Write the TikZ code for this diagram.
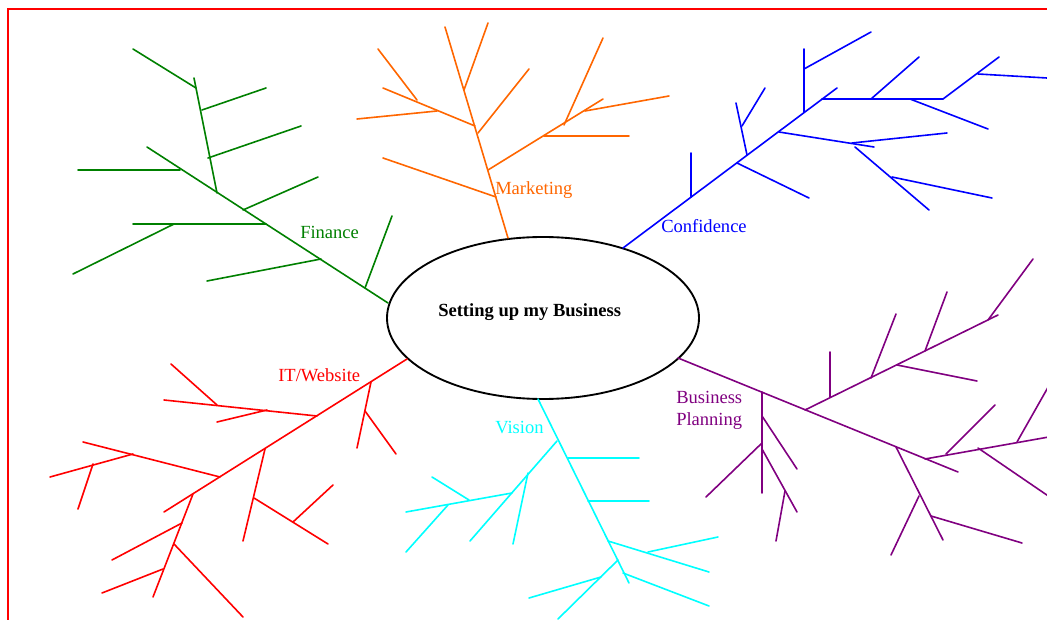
\documentclass[tikz,border=0pt]{standalone}
\usepackage{fontspec}
\setmainfont{Liberation Serif}
\usetikzlibrary{shapes.geometric}
\definecolor{fgreen}{RGB}{0,128,0}
\definecolor{forange}{RGB}{255,102,0}
\definecolor{fblue}{RGB}{0,0,255}
\definecolor{fred}{RGB}{255,0,0}
\definecolor{fcyan}{RGB}{0,255,255}
\definecolor{fpurple}{RGB}{128,0,128}
\begin{document}
\begin{tikzpicture}[x=0.75pt,y=-0.75pt,
  br/.style={line width=1.2pt, line cap=round},
  fin/.style={br, draw=fgreen},
  mkt/.style={br, draw=forange},
  cnf/.style={br, draw=fblue},
  itw/.style={br, draw=fred},
  vis/.style={br, draw=fcyan},
  bus/.style={br, draw=fpurple},
  lbl/.style={font=\fontsize{13.9}{16.5}\selectfont, inner sep=0pt, anchor=base west}]
\useasboundingbox (0,0) rectangle (1047,620);
\clip (0,0) rectangle (1047,620);
\draw[fred, line width=1.3pt] (8,9) rectangle (1100,700);

% central node
\node[ellipse, draw=black, line width=1.4pt, minimum width=234pt, minimum height=121.5pt, inner sep=0pt] (hub) at (543,318) {};
\node[lbl, font={\fontsize{13.9}{16.5}\selectfont\bfseries}] (title) at (438,317) {Setting up my Business};

% ---------- Finance ----------
\coordinate (f0) at (388,303);
\coordinate (f1) at (147,147);
\draw[fin] (f0) -- (f1);
\draw[fin] (365,288) -- (392,216);
\draw[fin] (321,259) -- (207,281);
\draw[fin] (266,224) -- (133,224);
\draw[fin] (174,224) -- (73,274);
\draw[fin] (243,210) -- (318,177);
\draw[fin] (217,193) -- (194,78);
\draw[fin] (196,88) -- (133,49);
\draw[fin] (202,110) -- (266,88);
\draw[fin] (208,158) -- (301,126);
\draw[fin] (180,170) -- (78,170);
\node[lbl, text=fgreen] (lfin) at (300,239) {Finance};

% ---------- Marketing ----------
\coordinate (m0) at (508,238);
\coordinate (m1) at (445,27);
\draw[mkt] (m0) -- (m1);
\draw[mkt] (464,90) -- (488,23);
\draw[mkt] (475,126) -- (383,88);
\draw[mkt] (437,111) -- (357,119);
\draw[mkt] (417,100) -- (378,49);
\draw[mkt] (478,133) -- (529,69);
\draw[mkt] (488,170) -- (603,99);
\draw[mkt] (544,136) -- (629,136);
\draw[mkt] (564,125) -- (603,38);
\draw[mkt] (585,111) -- (669,96);
\draw[mkt] (496,197) -- (383,158);
\node[lbl, text=forange] (lmkt) at (495,195) {Marketing};

% ---------- Confidence ----------
\coordinate (c0) at (623,248);
\coordinate (c1) at (837,88);
\draw[cnf] (c0) -- (c1);
\draw[cnf] (691,197) -- (691,153);
\draw[cnf] (737,163) -- (809,198);
\draw[cnf] (747,155) -- (736,103);
\draw[cnf] (742,126) -- (765,88);
\draw[cnf] (779,132) -- (874,147);
\draw[cnf] (852,143) -- (947,133);
\draw[cnf] (855,147) -- (929,210);
\draw[cnf] (892,177) -- (992,198);
\draw[cnf] (804,112) -- (804,49);
\draw[cnf] (804,69) -- (871,32);
\draw[cnf] (822,99) -- (943,99);
\draw[cnf] (871,99) -- (919,57);
\draw[cnf] (910,99) -- (988,129);
\draw[cnf] (943,99) -- (999,57);
\draw[cnf] (978,74) -- (1047,78);
\node[lbl, text=fblue] (lcnf) at (661,233) {Confidence};

% ---------- IT/Website ----------
\coordinate (i0) at (407,359);
\coordinate (i1) at (164,512);
\draw[itw] (i0) -- (i1);
\draw[itw] (371,382) -- (357,448);
\draw[itw] (365,411) -- (396,454);
\draw[itw] (317,416) -- (164,400);
\draw[itw] (217,405) -- (171,364);
\draw[itw] (267,410) -- (217,422);
\draw[itw] (265,449) -- (243,541);
\draw[itw] (254,498) -- (328,544);
\draw[itw] (293,522) -- (333,485);
\draw[itw] (220,477) -- (83,442);
\draw[itw] (133,454) -- (50,477);
\draw[itw] (93,464) -- (78,509);
\draw[itw] (193,494) -- (153,597);
\draw[itw] (182,523) -- (112,560);
\draw[itw] (163,569) -- (102,593);
\draw[itw] (174,544) -- (243,617);
\node[lbl, text=fred] (litw) at (278,382) {IT/Website};

% ---------- Vision ----------
\coordinate (v0) at (538,399);
\coordinate (v1) at (629,583);
\draw[vis] (v0) -- (v1);
\draw[vis] (568,458) -- (639,458);
\draw[vis] (588,501) -- (649,501);
\draw[vis] (557,441) -- (470,541);
\draw[vis] (528,473) -- (513,544);
\draw[vis] (512,493) -- (406,512);
\draw[vis] (469,500) -- (432,477);
\draw[vis] (448,505) -- (406,552);
\draw[vis] (608,541) -- (709,572);
\draw[vis] (648,552) -- (718,537);
\draw[vis] (618,560) -- (558,619);
\draw[vis] (601,577) -- (529,598);
\draw[vis] (623,573) -- (709,606);
\node[lbl, text=fcyan] (lvis) at (495,434) {Vision};

% ---------- Business Planning ----------
\coordinate (b0) at (678,358);
\coordinate (b1) at (958,472);
\draw[bus] (b0) -- (b1);
\draw[bus] (762,392) -- (762,493);
\draw[bus] (762,416) -- (797,469);
\draw[bus] (762,443) -- (706,497);
\draw[bus] (762,449) -- (797,512);
\draw[bus] (785,491) -- (776,541);
\draw[bus] (805,410) -- (998,315);
\draw[bus] (830,397) -- (830,352);
\draw[bus] (871,378) -- (896,314);
\draw[bus] (897,365) -- (977,381);
\draw[bus] (925,351) -- (947,292);
\draw[bus] (988,320) -- (1033,259);
\draw[bus] (896,447) -- (943,540);
\draw[bus] (919,496) -- (891,555);
\draw[bus] (931,516) -- (1022,543);
\draw[bus] (925,459) -- (1060,435);
\draw[bus] (946,454) -- (995,405);
\draw[bus] (978,448) -- (1060,504);
\draw[bus] (1017,442) -- (1055,375);
\node[lbl, text=fpurple] (lbus1) at (676,404) {Business};
\node[lbl, text=fpurple] (lbus2) at (676,426) {Planning};
\end{tikzpicture}
\end{document}
